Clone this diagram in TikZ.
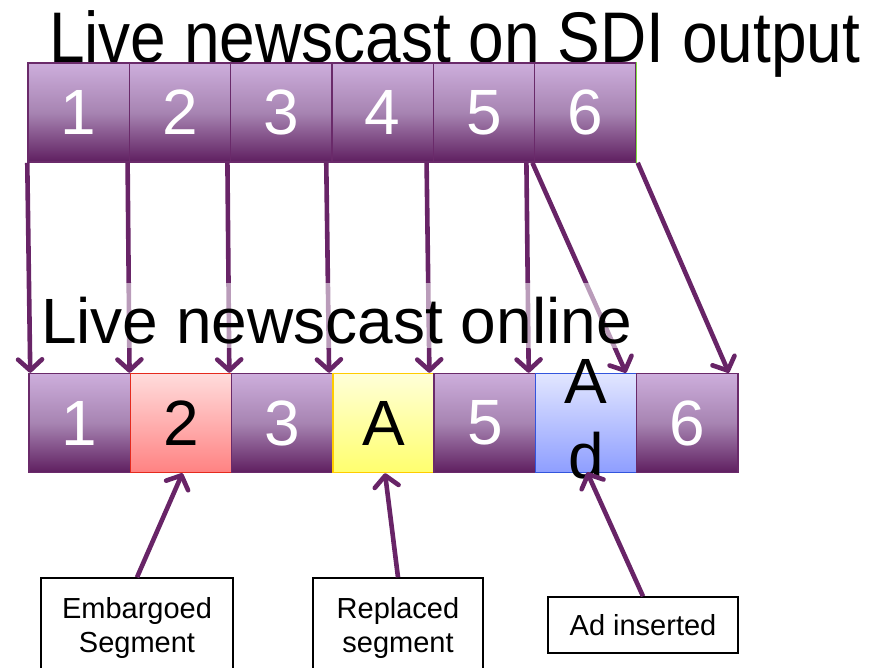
\documentclass[tikz,border=0pt]{standalone}
\usepackage{fontspec}
\setmainfont{Liberation Sans}
\usetikzlibrary{arrows.meta}

\definecolor{pTop}{HTML}{CDAEDC}
\definecolor{pMid}{HTML}{A784B2}
\definecolor{pBot}{HTML}{5F1F60}
\definecolor{pBorder}{HTML}{6A2A6A}
\definecolor{rTop}{HTML}{FFDCDC}
\definecolor{rBot}{HTML}{FF8282}
\definecolor{rBorder}{HTML}{E52A1E}
\definecolor{yTop}{HTML}{FFFFD8}
\definecolor{yBot}{HTML}{FFFF6E}
\definecolor{yBorder}{HTML}{FFCC00}
\definecolor{bTop}{HTML}{E2E6FF}
\definecolor{bBot}{HTML}{8E9EFF}
\definecolor{bBorder}{HTML}{3355DD}
\definecolor{arrowpurple}{HTML}{682467}
\definecolor{edgegreen}{HTML}{80E040}

\newcommand{\bigtype}{\fontsize{64}{75}\selectfont}
\newcommand{\smalltype}{\fontsize{29}{34}\selectfont}
\newcommand{\dg}[1]{\raisebox{-2.5pt}{#1}}

\begin{document}
\begin{tikzpicture}[x=1pt,y=-1pt,
  seg/.style={minimum width=101.3pt, minimum height=99pt, inner sep=0pt,
    line width=1.5pt, font=\bigtype},
  purpleseg/.style={seg, draw=pBorder, top color=pTop, bottom color=pBot,
    middle color=pMid, text=white},
  redseg/.style={seg, draw=rBorder, top color=rTop, bottom color=rBot, text=black},
  yellowseg/.style={seg, draw=yBorder, top color=yTop, bottom color=yBot, text=black},
  blueseg/.style={seg, draw=bBorder, top color=bTop, bottom color=bBot, text=black},
  arr/.style={draw=arrowpurple, line width=4.6pt,
    -{Straight Barb[length=11pt, width=24pt, round]}},
  callout/.style={draw=black, line width=1.4pt, fill=white, inner sep=0pt,
    font=\smalltype, align=center}
]
\useasboundingbox (0,0) rectangle (883,667);
\clip (0,0) rectangle (883,667);

% title
\node (title) [anchor=base west, inner sep=0pt, font=\bigtype] at (49,62)
  {\scalebox{1}[1.12]{Live newscast on SDI output}};

% SDI output segments
\foreach \i/\t in {1/1,2/2,3/3,4/4,5/5,6/6}
  \node (t\i) [purpleseg] at ({28+101.33*(\i-0.5)},112.5) {\dg{\t}};
\draw[edgegreen, line width=1pt] (t6.north east) -- (t6.south east);

% online segments
\node (b1) [purpleseg] at ({29+101.29*0.5},423) {\dg{1}};
\node (b2) [redseg]    at ({29+101.29*1.5},423) {\dg{2}};
\node (b3) [purpleseg] at ({29+101.29*2.5},423) {\dg{3}};
\node (b4) [yellowseg] at ({29+101.29*3.5},423) {\dg{A}};
\node (b5) [purpleseg] at ({29+101.29*4.5},423) {\dg{5}};
\node (b6) [blueseg]   at ({29+101.29*5.5},423) {};
\node (b7) [purpleseg] at ({29+101.29*6.5},423) {\dg{6}};
\node (b6txt) [align=center, inner sep=0pt, font=\bigtype] at ([yshift=4pt]b6.center) {A\\d};

% mapping arrows
\draw[arr] (t1.south west) -- ([xshift=2pt]b1.north west);
\draw[arr] ([xshift=-1pt]t2.south west) -- ([xshift=0pt]b2.north west);
\draw[arr] ([xshift=-2.5pt]t3.south west) -- ([xshift=-1.5pt]b3.north west);
\draw[arr] ([xshift=-5pt]t4.south west) -- ([xshift=-3pt]b4.north west);
\draw[arr] ([xshift=-6pt]t5.south west) -- ([xshift=-4pt]b5.north west);
\draw[arr] ([xshift=-7.5pt]t6.south west) -- ([xshift=-6pt]b6.north west);
\draw[arr] ([xshift=-1.5pt]t6.south west) -- ([xshift=-10pt]b7.north west);
\draw[arr] ([xshift=1pt]t6.south east) -- ([xshift=-10pt]b7.north east);

% second heading over a translucent backdrop
\fill[white, opacity=0.55] (40,283) rectangle (657,348);
\node (online) [anchor=base west, inner sep=0pt, font=\bigtype] at (41,343)
  {Live newscast online};

% callouts
\node (lab1) [callout, minimum width=192pt, minimum height=100pt] at (137,628)
  {Embargoed\\Segment};
\node (lab2) [callout, minimum width=170pt, minimum height=100pt] at (398,628)
  {Replaced\\segment};
\node (lab3) [callout, minimum width=190pt, minimum height=56pt] at (643,625)
  {Ad inserted};

\draw[arr] (lab1.north) -- ([xshift=1.5pt]b2.south);
\draw[arr] (lab2.north) -- ([xshift=1.5pt]b4.south);
\draw[arr] (lab3.north) -- ([xshift=1pt,yshift=1pt]b6.south);
\end{tikzpicture}
\end{document}
